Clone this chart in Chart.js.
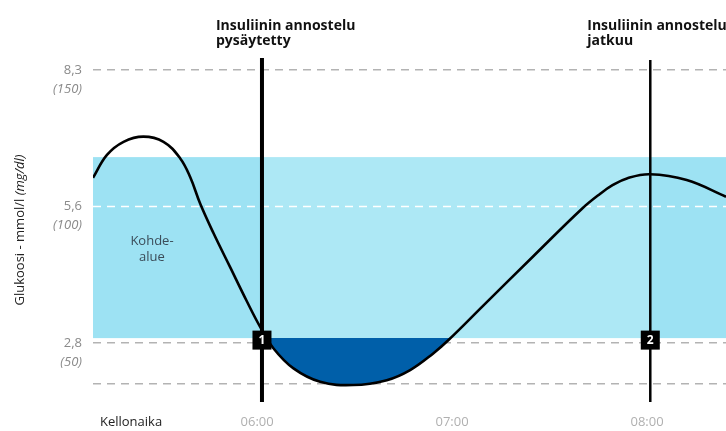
<!DOCTYPE html>
<html>
<head>
<script src="https://cdn.jsdelivr.net/npm/chart.js@4.4.1/dist/chart.umd.min.js"></script>
<style>
  body { margin: 0; background: #fff; }
  #wrap { width: 726px; height: 431px; position: relative; }
</style>
</head>
<body>
<div id="wrap"><canvas id="c"></canvas></div>
<script>
// time = minutes since midnight, glucose = mg/dl
const curveTime = [309.5, 313.8, 318.9, 325.0, 331.2, 336.3, 339.4, 342.5, 346.6, 351.7, 356.8, 360.9,
                   365.0, 371.2, 379.4, 389.6, 399.9, 407.1, 414.2, 418.9, 429.6, 445.0, 459.9,
                   465.5, 469.5, 473.8, 480.9, 492.2, 504.3];
const curveGlucose = [110.5, 118.9, 123.7, 125.6, 123.7, 117.7, 110.8, 101.0, 90.2, 77.8, 65.4, 56.0,
                      48.1, 40.7, 35.8, 34.6, 36.4, 40.1, 46.2, 51.1, 63.7, 81.8, 99.1,
                      104.6, 107.9, 110.3, 111.8, 109.7, 103.6];

const timeTicks = [321.2, 360, 420, 480];
const timeLabels = ['Kellonaika', '06:00', '07:00', '08:00'];
const glucoseTicks = [150, 100, 50, 35];
const mmolLabels = ['8,3', '5,6', '2,8', ''];
const mgLabels = ['(150)', '(100)', '(50)', ''];

const targetRange = [51.8, 118.1];   // Kohdealue
const pauseAt = 361.5;               // 1
const resumeAt = 481;                // 2
const pauseTop = 154.4, resumeTop = 153.7;

const xMin = 309.5, xMax = 504.3;
const yMin = 28.4, yMax = 154.4;

const FONT = '"Open Sans", "Noto Sans", sans-serif';

const overlay = {
  id: 'overlay',
  beforeDatasetsDraw(chart) {
    const { ctx, chartArea: a, scales: { x, y } } = chart;
    const top = y.getPixelForValue(targetRange[1]);
    const bot = y.getPixelForValue(targetRange[0]);
    const x1 = x.getPixelForValue(pauseAt);
    const x2 = x.getPixelForValue(resumeAt);
    ctx.save();
    ctx.fillStyle = '#9de2f3';
    ctx.fillRect(a.left, top, x1 - a.left, bot - top);
    ctx.fillRect(x2, top, a.right - x2, bot - top);
    ctx.fillStyle = '#ade8f5';
    ctx.fillRect(x1, top, x2 - x1, bot - top);
    // 5,6 line goes white over the band
    const ym = y.getPixelForValue(glucoseTicks[1]);
    ctx.strokeStyle = '#ffffff';
    ctx.lineWidth = 1.5;
    ctx.setLineDash([8, 6]);
    ctx.beginPath();
    ctx.moveTo(a.left, ym);
    ctx.lineTo(a.right, ym);
    ctx.stroke();
    ctx.restore();
  },
  afterDraw(chart) {
    const { ctx, chartArea: a, scales: { x, y } } = chart;
    ctx.save();

    // numbered markers
    const my = y.getPixelForValue(targetRange[0]) + 2;
    [[pauseAt, '1'], [resumeAt, '2']].forEach(([t, n]) => {
      const px = x.getPixelForValue(t);
      ctx.fillStyle = '#000';
      ctx.fillRect(px - 9.5, my - 9.5, 19, 19);
      ctx.fillStyle = '#fff';
      ctx.font = 'bold 12px ' + FONT;
      ctx.textAlign = 'center';
      ctx.textBaseline = 'middle';
      ctx.fillText(n, px, my + 0.5);
    });

    // top notes
    ctx.fillStyle = '#111';
    ctx.font = 'bold 14px ' + FONT;
    ctx.textAlign = 'left';
    ctx.textBaseline = 'alphabetic';
    const p1 = x.getPixelForValue(pauseAt) - 46;
    ctx.fillText('Insuliinin annostelu', p1, 30);
    ctx.fillText('pysäytetty', p1, 45);
    const p2 = x.getPixelForValue(resumeAt) - 63;
    ctx.fillText('Insuliinin annostelu', p2, 30);
    ctx.fillText('jatkuu', p2, 45);

    // target area label
    ctx.fillStyle = '#3b4c58';
    ctx.font = '13px ' + FONT;
    ctx.textAlign = 'center';
    ctx.textBaseline = 'middle';
    ctx.fillText('Kohde-', 152, 241);
    ctx.fillText('alue', 152, 257);

    // mg/dl tick labels, italic, under the mmol ones
    ctx.fillStyle = '#8a8a8a';
    ctx.font = 'italic 13px ' + FONT;
    ctx.textAlign = 'right';
    glucoseTicks.forEach((v, i) => {
      ctx.fillText(mgLabels[i], a.left - 11, y.getPixelForValue(v) + 19);
    });

    // y title, rotated, "(mg/dl)" in italic
    const t1 = 'Glukoosi - mmol/l ', t2 = '(mg/dl)';
    ctx.font = '13px ' + FONT;
    const w1 = ctx.measureText(t1).width;
    ctx.font = 'italic 13px ' + FONT;
    const w2 = ctx.measureText(t2).width;
    ctx.translate(20, (a.top + a.bottom) / 2);
    ctx.rotate(-Math.PI / 2);
    ctx.fillStyle = '#222';
    ctx.textAlign = 'left';
    ctx.textBaseline = 'middle';
    ctx.font = '13px ' + FONT;
    ctx.fillText(t1, -(w1 + w2) / 2, 0);
    ctx.font = 'italic 13px ' + FONT;
    ctx.fillText(t2, -(w1 + w2) / 2 + w1, 0);
    ctx.restore();
  }
};

const curve = curveTime.map((t, i) => ({ x: t, y: curveGlucose[i] }));

new Chart(document.getElementById('c'), {
  type: 'line',
  data: {
    datasets: [
      {
        data: curve,
        borderColor: '#000',
        borderWidth: 2.6,
        pointRadius: 0,
        tension: 0.4,
        fill: { value: targetRange[0], above: 'rgba(0,0,0,0)', below: '#005fa9' }
      },
      {
        data: [{ x: pauseAt, y: yMin }, { x: pauseAt, y: pauseTop }],
        borderColor: '#000',
        borderWidth: 4,
        pointRadius: 0,
        fill: false
      },
      {
        data: [{ x: resumeAt, y: yMin }, { x: resumeAt, y: resumeTop }],
        borderColor: '#000',
        borderWidth: 2.5,
        pointRadius: 0,
        fill: false
      }
    ]
  },
  options: {
    responsive: true,
    maintainAspectRatio: false,
    animation: false,
    layout: { padding: { top: 58, left: 0, right: 0, bottom: 0 } },
    plugins: { legend: { display: false }, tooltip: { enabled: false } },
    scales: {
      x: {
        type: 'linear',
        min: xMin,
        max: xMax,
        afterBuildTicks: s => { s.ticks = timeTicks.map(v => ({ value: v })); },
        afterFit: s => { s.height = 29; },
        grid: { display: false },
        border: { display: false },
        ticks: {
          autoSkip: false,
          maxRotation: 0,
          padding: 4,
          callback: (v, i) => timeLabels[i],
          color: c => c.index === 0 ? '#222' : '#b0b0b0',
          font: { family: FONT, size: 13 }
        }
      },
      y: {
        min: yMin,
        max: yMax,
        afterBuildTicks: s => { s.ticks = glucoseTicks.map(v => ({ value: v })); },
        afterFit: s => { s.width = 93; },
        grid: { color: '#b3b3b3', lineWidth: 1.5, drawTicks: false },
        border: { display: false, dash: [8, 6] },
        ticks: {
          padding: 11,
          callback: (v, i) => mmolLabels[i],
          color: '#8a8a8a',
          font: { family: FONT, size: 13 }
        }
      }
    }
  },
  plugins: [overlay]
});
</script>
</body>
</html>
